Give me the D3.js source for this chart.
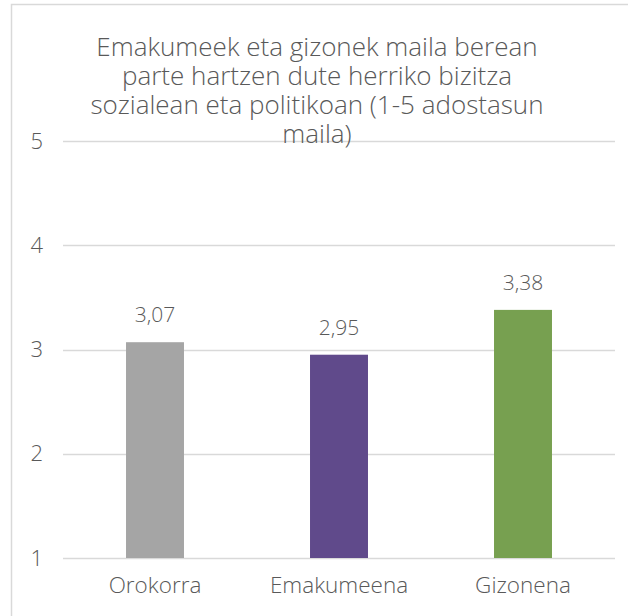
<!DOCTYPE html>
<html>
<head>
<meta charset="utf-8">
<script src="https://cdn.jsdelivr.net/npm/d3@7"></script>
<style>
  body { margin: 0; background: #fff; }
  text { font-family: "Open Sans", "Noto Sans", sans-serif; font-weight: 300; fill: #595959; }
</style>
</head>
<body>
<svg id="chart" width="628" height="616"></svg>
<script>
// data
const categories = ["Orokorra", "Emakumeena", "Gizonena"];
const values = [3.07, 2.95, 3.38];
const barColors = ["#a5a5a5", "#604a8b", "#77a050"];
const yTicks = [1, 2, 3, 4, 5];
const titleLines = [
    "Emakumeek eta gizonek maila berean",
    "parte hartzen dute herriko bizitza",
    "sozialean eta politikoan (1-5 adostasun",
    "maila)"
];

const svg = d3.select("#chart");
const margin = {top: 141, right: 13, bottom: 58, left: 63};
const width = 628 - margin.left - margin.right;
const height = 616 - margin.top - margin.bottom;

// outer chart border (cropped on the right and bottom)
svg.append("rect")
    .attr("x", 11.5).attr("y", 4.5)
    .attr("width", 800).attr("height", 800)
    .attr("fill", "none")
    .attr("stroke", "#d9d9d9")
    .attr("stroke-width", 1.5);

const x = d3.scaleBand()
    .domain(categories)
    .range([margin.left, margin.left + width])
    .paddingInner(0.685)
    .paddingOuter(0.3425);

const y = d3.scaleLinear()
    .domain([1, 5])
    .range([margin.top + height, margin.top]);

// gridlines
svg.append("g")
  .selectAll("line")
  .data(yTicks)
  .join("line")
    .attr("x1", margin.left)
    .attr("x2", margin.left + width)
    .attr("y1", d => Math.round(y(d)) + 0.5)
    .attr("y2", d => Math.round(y(d)) + 0.5)
    .attr("stroke", "#d9d9d9")
    .attr("stroke-width", 1.5);

// y tick labels
svg.append("g")
  .selectAll("text")
  .data(yTicks)
  .join("text")
    .attr("x", 43)
    .attr("y", d => y(d))
    .attr("dy", "0.35em")
    .attr("text-anchor", "end")
    .style("font-size", "22px")
    .text(d => d);

// bars
svg.append("g")
  .selectAll("rect")
  .data(values)
  .join("rect")
    .attr("x", (d, i) => x(categories[i]))
    .attr("width", x.bandwidth())
    .attr("y", d => y(d))
    .attr("height", d => y(1) - y(d))
    .attr("fill", (d, i) => barColors[i]);

// value labels
svg.append("g")
  .selectAll("text")
  .data(values)
  .join("text")
    .attr("x", (d, i) => x(categories[i]) + x.bandwidth() / 2)
    .attr("y", d => y(d) - 20)
    .attr("text-anchor", "middle")
    .style("font-size", "21px")
    .text(d => d3.format(".2f")(d).replace(".", ","));

// category labels
svg.append("g")
  .selectAll("text")
  .data(categories)
  .join("text")
    .attr("x", d => x(d) + x.bandwidth() / 2)
    .attr("y", y(1) + 35)
    .attr("text-anchor", "middle")
    .style("font-size", "22.5px")
    .text(d => d);

// title, one text block with a line per tspan
svg.append("text")
    .attr("text-anchor", "middle")
    .style("font-size", "26px")
  .selectAll("tspan")
  .data(titleLines)
  .join("tspan")
    .attr("x", 317)
    .attr("y", (d, i) => 56 + i * 29)
    .text(d => d);
</script>
</body>
</html>
